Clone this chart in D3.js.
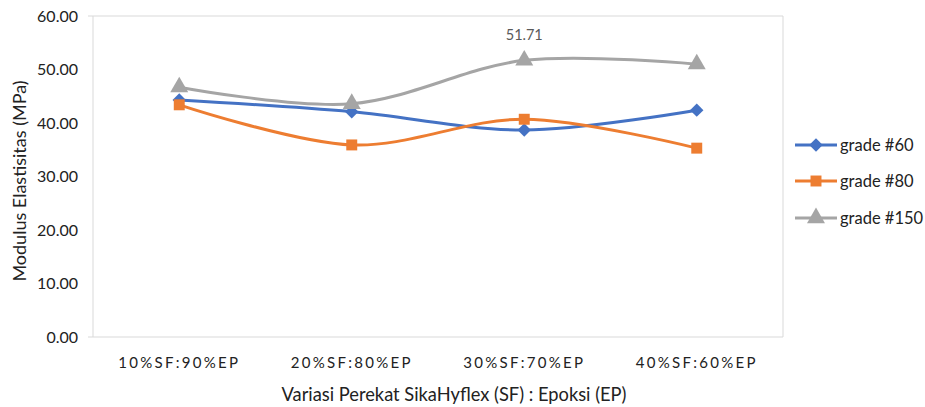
<!DOCTYPE html>
<html><head><meta charset="utf-8">
<script src="https://cdn.jsdelivr.net/npm/d3@7"></script>
<style>body{margin:0;background:#fff}</style>
</head><body>
<svg id="c" width="925" height="407"></svg>
<script>
const categories = ["10%SF:90%EP","20%SF:80%EP","30%SF:70%EP","40%SF:60%EP"];
const seriesNames = ["grade #60","grade #80","grade #150"];
const grade60 = [44.3, 42.1, 38.7, 42.4];
const grade80 = [43.4, 35.9, 40.7, 35.3];
const grade150 = [46.7, 43.6, 51.71, 51.0];
const yTicks = [0,10,20,30,40,50,60];
const colors = ["#4472C4","#ED7D31","#A5A5A5"];
const symbols = [d3.symbolSquare, d3.symbolSquare, d3.symbolTriangle];
const symRot = [45, 0, 0];
const symSizes = [90, 120, 140];

const svg = d3.select("#c");
const m = {l:93, r:783, t:16, b:337};
const x = d3.scaleBand().domain(categories).range([m.l, m.r]);
const y = d3.scaleLinear().domain([0,60]).range([m.b, m.t]);
const font = "Lato, 'Open Sans', sans-serif";

// frame lines
svg.append("line").attr("x1",88).attr("x2",m.r).attr("y1",y(60)).attr("y2",y(60)).attr("stroke","#d9d9d9");
svg.append("line").attr("x1",88).attr("x2",m.r).attr("y1",y(0)).attr("y2",y(0)).attr("stroke","#d9d9d9");
svg.append("line").attr("x1",m.l).attr("x2",m.l).attr("y1",m.t).attr("y2",m.b).attr("stroke","#d9d9d9");
svg.append("line").attr("x1",m.r).attr("x2",m.r).attr("y1",m.t).attr("y2",m.b).attr("stroke","#d9d9d9");

// y axis
const ya = svg.append("g").attr("transform",`translate(${m.l-5},0)`)
  .call(d3.axisLeft(y).tickValues(yTicks).tickFormat(d3.format(".2f")).tickSize(0).tickPadding(10));
ya.select(".domain").remove();
ya.selectAll("text").attr("font-family",font).attr("font-size",16).attr("fill","#222");

// x axis
const xa = svg.append("g").attr("transform",`translate(0,${m.b})`)
  .call(d3.axisBottom(x).tickSize(0).tickPadding(20));
xa.select(".domain").remove();
xa.selectAll("text").attr("font-family",font).attr("font-size",15).attr("fill","#222").attr("letter-spacing","2.3px");

// titles
svg.append("text").attr("x",454).attr("y",401).attr("text-anchor","middle")
  .attr("font-family",font).attr("font-size",18.3).attr("fill","#222")
  .text("Variasi Perekat SikaHyflex (SF) : Epoksi (EP)");
svg.append("text").attr("transform","translate(26,181) rotate(-90)").attr("text-anchor","middle")
  .attr("font-family",font).attr("font-size",18).attr("fill","#222")
  .text("Modulus Elastisitas (MPa)");

const series = [grade60, grade80, grade150];
const line = d3.line().x((d,i)=>x(categories[i])+x.bandwidth()/2).y(d=>y(d)).curve(d3.curveCatmullRom.alpha(0));

series.forEach((vals,si)=>{
  svg.append("path").datum(vals).attr("d",line).attr("fill","none")
    .attr("stroke",colors[si]).attr("stroke-width",3);
});
series.forEach((vals,si)=>{
  svg.selectAll(null).data(vals).enter().append("path")
    .attr("d",d3.symbol().type(symbols[si]).size(symSizes[si]))
    .attr("transform",(d,i)=>`translate(${x(categories[i])+x.bandwidth()/2},${y(d)}) rotate(${symRot[si]})`)
    .attr("fill",colors[si]);
});

// data label
svg.append("text").attr("x",x(categories[2])+x.bandwidth()/2).attr("y",y(grade150[2])-20)
  .attr("text-anchor","middle").attr("font-family",font).attr("font-size",14.5).attr("fill","#595959")
  .text(d3.format(".2f")(grade150[2]));

// legend
const ly = [145,181,218];
seriesNames.forEach((n,si)=>{
  const g = svg.append("g").attr("transform",`translate(0,${ly[si]})`);
  g.append("line").attr("x1",795).attr("x2",837).attr("stroke",colors[si]).attr("stroke-width",3);
  g.append("path").attr("d",d3.symbol().type(symbols[si]).size(symSizes[si])).attr("transform",`translate(816,0) rotate(${symRot[si]})`).attr("fill",colors[si]);
  g.append("text").attr("x",840).attr("y",6).attr("font-family",font).attr("font-size",16.5).attr("fill","#222").text(n);
});
</script>
</body></html>
